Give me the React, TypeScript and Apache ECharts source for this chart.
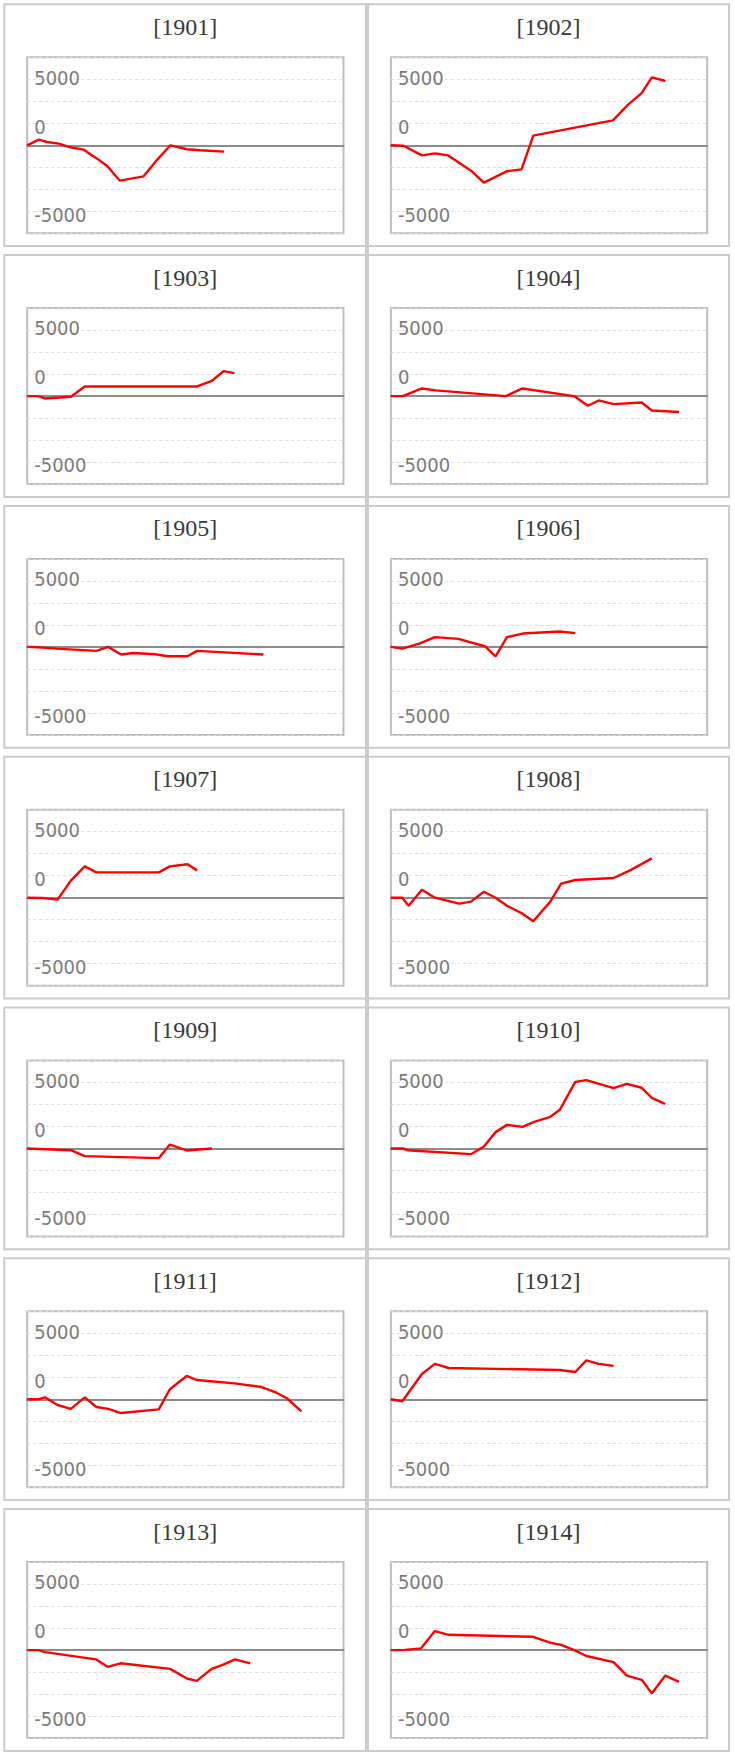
import React, { useEffect, useRef } from 'react';
import * as echarts from 'echarts';

// ---- data: [x position along the year (0-100), value] ----
const YEARS = ['1901', '1902', '1903', '1904', '1905', '1906', '1907', '1908', '1909', '1910', '1911', '1912', '1913', '1914'];

const d1901 = [[0, 0], [3.7, 430], [6.3, 250], [10, 130], [13.7, -150], [17.9, -330], [22.1, -1010], [25.3, -1570], [29.3, -2680], [36.8, -2350], [40.5, -1260], [45.3, 0], [50.5, -300], [54.7, -380], [62.3, -480]];
const d1902 = [[0, 0], [4, -30], [9.8, -760], [14, -610], [18, -760], [25.6, -1970], [29.4, -2830], [36.6, -1970], [41.3, -1820], [45, 730], [70.2, 1890], [75, 3080], [79.2, 3940], [82.5, 5150], [86.8, 4870]];
const d1903 = [[0, 0], [3.4, 0], [5.6, -180], [13.8, -50], [18.2, 730], [53.7, 730], [58.4, 1160], [62.1, 1890], [65.5, 1740]];
const d1904 = [[0, 0], [3.8, 0], [9.8, 580], [14.2, 430], [36.4, 0], [41.6, 580], [57.9, 0], [62.3, -730], [65.7, -330], [70.4, -610], [79.3, -480], [82.5, -1090], [91.1, -1210]];
const d1905 = [[0, 0], [3.4, -25], [9.3, -130], [21.9, -300], [25.6, 0], [29.7, -580], [33.7, -460], [40.4, -560], [44.5, -710], [50.7, -710], [53.7, -300], [74.7, -580]];
const d1906 = [[0, 0], [3.6, -130], [9, 250], [13.9, 740], [21.3, 610], [29.7, 50], [33.1, -710], [36.7, 740], [41.6, 1010], [53.4, 1170], [58.3, 1040]];
const d1907 = [[0, 0], [4.9, -25], [9.6, -150], [13.8, 1290], [18.2, 2370], [21.9, 1920], [41.6, 1920], [45.1, 2370], [50.7, 2530], [53.7, 2070]];
const d1908 = [[0, 0], [3.6, 0], [5.6, -610], [9.8, 610], [13.9, 0], [21.6, -450], [25.3, -300], [29.4, 450], [33.1, 0], [36.7, -610], [41.6, -1210], [45, -1790], [50.4, -300], [53.8, 1060], [58.3, 1340], [70.4, 1490], [75.6, 2070], [82.5, 2980]];
const d1909 = [[0, 0], [13.8, -130], [18.2, -580], [41.6, -730], [45.1, 300], [50.4, -150], [58.4, 0]];
const d1910 = [[0, 0], [3.8, 0], [5.3, -130], [25.3, -430], [29.4, 150], [33.1, 1240], [36.7, 1790], [41.6, 1640], [45.3, 2020], [50.4, 2400], [53.4, 2930], [58.3, 5050], [61.8, 5180], [70.4, 4570], [74.6, 4900], [79.3, 4600], [82.5, 3840], [86.7, 3380]];
const d1911 = [[0, 0], [3.4, 0], [5.6, 150], [9.6, -430], [13.8, -730], [18.2, 150], [21.9, -580], [25.6, -730], [29.7, -1040], [41.6, -760], [45.1, 760], [50.4, 1770], [53.7, 1460], [65.5, 1210], [74.1, 930], [78.8, 500], [82.1, 80], [86.7, -910]];
const d1912 = [[0, 0], [3.6, -150], [9.8, 1920], [13.9, 2680], [18.3, 2370], [53.4, 2220], [58.3, 2070], [61.8, 2950], [65.7, 2680], [70.4, 2530]];
const d1913 = [[0, 0], [3.6, 0], [5.7, -150], [21.7, -700], [25.4, -1270], [29.5, -1000], [45.2, -1420], [50.5, -2150], [53.6, -2330], [58.3, -1420], [62, -1100], [65.7, -700], [70.5, -1000]];
const d1914 = [[0, 0], [3.6, 0], [9.5, 130], [13.9, 1440], [18.3, 1160], [44.9, 1010], [50.4, 560], [53.8, 400], [58.2, -25], [61.8, -450], [70.4, -910], [74.6, -1940], [79.3, -2250], [82.5, -3280], [86.7, -1940], [91.1, -2400]];

const SERIES = [d1901, d1902, d1903, d1904, d1905, d1906, d1907, d1908, d1909, d1910, d1911, d1912, d1913, d1914];

const Y_MIN = -20000 / 3;
const Y_MAX = 20000 / 3;
const Y_INTERVAL = 5000 / 3;
const Y_LABELS = [5000, 0, -5000];

// ---- layout ----
const COL_X = [3.3, 367];
const COL_W = [363.7, 363];
const ROW_Y0 = 3.3;
const ROW_PITCH = 250.8;
const PANEL_H = 243.8;

const LABEL_FONT = "'DejaVu Sans Condensed', 'Liberation Sans', sans-serif";
const TITLE_FONT = "'Liberation Serif', 'Times New Roman', serif";

export default function App() {
  const ref = useRef<HTMLDivElement>(null);

  useEffect(() => {
    const chart = echarts.init(ref.current as HTMLDivElement, null, { renderer: 'svg' });

    const grids: any[] = [];
    const xAxes: any[] = [];
    const yAxes: any[] = [];
    const series: any[] = [];
    const titles: any[] = [];
    const graphics: any[] = [];

    const labelBase = { fontSize: 20, fontFamily: LABEL_FONT, color: '#7c7c7c' };

    YEARS.forEach((year, i) => {
      const row = Math.floor(i / 2);
      const col = i % 2;
      const px = COL_X[col];
      const pw = COL_W[col];
      const py = ROW_Y0 + row * ROW_PITCH;

      graphics.push({
        type: 'rect',
        shape: { x: px + 1, y: py + 1, width: pw - 2, height: PANEL_H - 2 },
        style: { fill: 'none', stroke: '#cccccc', lineWidth: 2 },
        z: 0,
        silent: true,
      });

      titles.push({
        text: '[' + year + ']',
        left: px + pw / 2,
        top: py + 11.4,
        textAlign: 'center',
        padding: 0,
        textStyle: { fontSize: 24, fontWeight: 'normal', fontFamily: TITLE_FONT, color: '#3a3a3a', lineHeight: 24 },
      });

      grids.push({
        left: px + 23.9,
        top: py + 54,
        width: 316.3,
        height: 176,
        show: true,
        borderColor: '#bdbdbd',
        borderWidth: 2,
        backgroundColor: 'transparent',
      });

      xAxes.push({
        type: 'value',
        gridIndex: i,
        min: 0,
        max: 100,
        axisLine: { show: true, onZero: true, lineStyle: { color: '#8c8c8c', width: 2 } },
        axisTick: { show: false },
        axisLabel: { show: false },
        splitLine: { show: false },
      });

      yAxes.push({
        type: 'value',
        gridIndex: i,
        min: Y_MIN,
        max: Y_MAX,
        interval: Y_INTERVAL,
        axisLine: { show: false },
        axisTick: { show: false },
        splitLine: { show: true, lineStyle: { color: '#dcdcdc', width: 1, type: [3, 3] } },
        axisLabel: {
          inside: true,
          margin: 7,
          ...labelBase,
          formatter: (v: number) => {
            const hit = Y_LABELS.find((t) => Math.abs(v - t) < 1);
            if (hit === undefined) return '';
            const key = hit > 0 ? 'p' : hit < 0 ? 'n' : 'z';
            return '{' + key + '|' + hit + '}';
          },
          rich: {
            p: { ...labelBase, padding: [0, 0, 3.6, 0] },
            z: { ...labelBase, padding: [0, 0, 37.6, 0] },
            n: { ...labelBase, padding: [6.4, 0, 0, 0] },
          },
        },
      });

      series.push({
        type: 'line',
        name: year,
        xAxisIndex: i,
        yAxisIndex: i,
        data: SERIES[i],
        showSymbol: false,
        symbol: 'none',
        lineStyle: { color: '#ff0000', width: 2.4 },
        itemStyle: { color: '#ff0000' },
        z: 3,
      });
    });

    graphics.push({
      type: 'rect',
      shape: { x: 365, y: ROW_Y0, width: 4, height: 6 * ROW_PITCH + PANEL_H - 0.5 },
      style: { fill: '#cccccc' },
      z: 1,
      silent: true,
    });

    chart.setOption({
      animation: false,
      backgroundColor: '#ffffff',
      title: titles,
      grid: grids,
      xAxis: xAxes,
      yAxis: yAxes,
      series,
      graphic: graphics,
    });

    return () => chart.dispose();
  }, []);

  return (
    <div
      ref={ref}
      style={{ position: 'absolute', left: 0, top: 0, width: 735, height: 1755, background: '#fff' }}
    />
  );
}
